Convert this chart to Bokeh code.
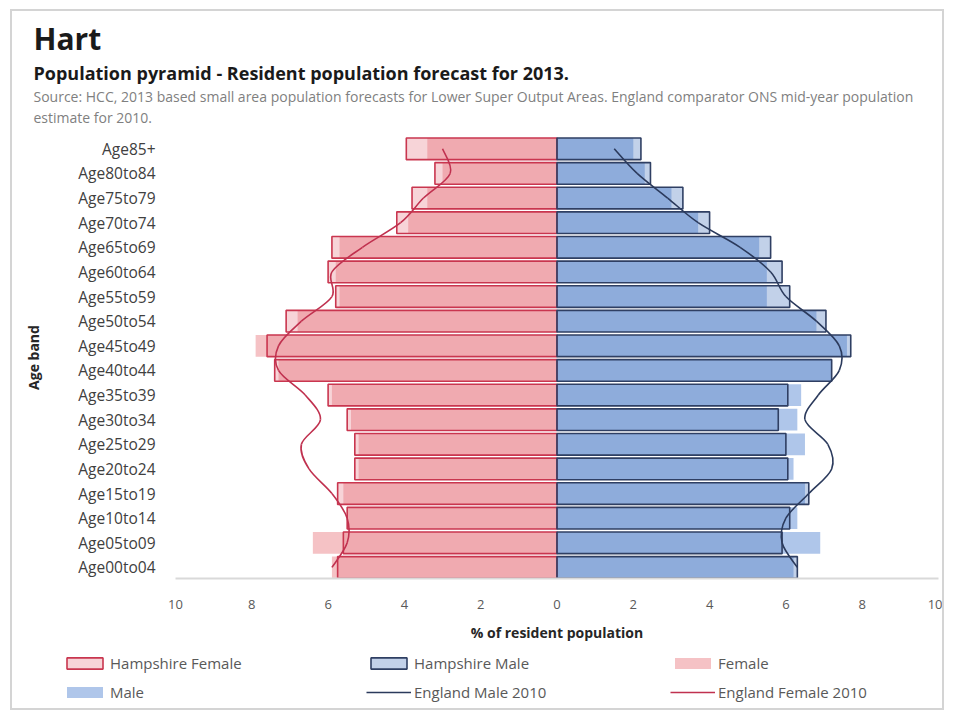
from bokeh.plotting import figure
from bokeh.models import (Range1d, FixedTicker, Title, Legend, LegendItem)
from bokeh.embed import file_html
from bokeh.resources import INLINE

# ---------------- data (top band first) ----------------
ages = ["Age85+", "Age80to84", "Age75to79", "Age70to74", "Age65to69", "Age60to64",
        "Age55to59", "Age50to54", "Age45to49", "Age40to44", "Age35to39", "Age30to34",
        "Age25to29", "Age20to24", "Age15to19", "Age10to14", "Age05to09", "Age00to04"]

hart_female = [3.4, 3.0, 3.4, 3.9, 5.7, 5.8, 5.7, 6.8, 7.9, 7.3, 5.9, 5.4, 5.2, 5.2, 5.6, 5.5, 6.4, 5.9]
hampshire_female = [3.95, 3.2, 3.8, 4.2, 5.9, 6.0, 5.8, 7.1, 7.6, 7.4, 6.0, 5.5, 5.3, 5.3, 5.75, 5.5, 5.6, 5.75]
hart_male = [2.0, 2.3, 3.0, 3.7, 5.3, 5.5, 5.5, 6.8, 7.6, 7.2, 6.4, 6.3, 6.5, 6.2, 6.5, 6.3, 6.9, 6.2]
hampshire_male = [2.2, 2.45, 3.3, 4.0, 5.6, 5.9, 6.1, 7.05, 7.7, 7.2, 6.05, 5.8, 6.0, 6.05, 6.6, 6.1, 5.9, 6.3]
england_male_2010 = [1.5, 2.1, 2.9, 3.7, 4.8, 5.6, 6.0, 6.8, 7.4, 7.4, 6.85, 6.5, 7.1, 7.2, 6.6, 6.0, 5.9, 6.3]
england_female_2010 = [3.0, 2.8, 3.5, 4.1, 5.1, 5.9, 5.9, 6.7, 7.3, 7.3, 6.6, 6.2, 6.7, 6.5, 5.9, 5.5, 5.5, 5.9]

x_ticks = [-10, -8, -6, -4, -2, 0, 2, 4, 6, 8, 10]
x_tick_labels = ["10", "8", "6", "4", "2", "0", "2", "4", "6", "8", "10"]

title_text = "Hart"
subtitle_text = "Population pyramid - Resident population forecast for 2013."
source_lines = ["Source: HCC, 2013 based small area population forecasts for Lower Super Output Areas. England comparator ONS mid-year population",
                "estimate for 2010."]

# ---------------- derived positions ----------------
n = len(ages)
ypos = [n - 1 - k for k in range(n)]
neg = lambda vals: [-v for v in vals]

FONT = "Open Sans"

# frame covers the canvas below the titles; the axes sit inside it at fixed locations
p = figure(width=934, height=701, output_backend="svg", toolbar_location=None,
           x_range=Range1d(-14.273, 10.21), y_range=Range1d(-5.892, 17.906),
           min_border_left=0, min_border_right=0, min_border_top=115, min_border_bottom=0)
p.styles = {"margin-left": "10px", "margin-top": "9px", "border": "2px solid #d4d4d4"}
p.outline_line_color = None
p.xgrid.visible = False
p.ygrid.visible = False
p.background_fill_color = "white"
p.border_fill_color = "white"

BAR_H = 0.88
# Hart (filled)
r_female = p.hbar(y=ypos, left=neg(hart_female), right=0, height=BAR_H,
                  fill_color="#F5C2C5", line_color=None)
r_male = p.hbar(y=ypos, left=0, right=hart_male, height=BAR_H,
                fill_color="#AFC6EA", line_color=None)
# Hampshire (outlined)
r_hf = p.hbar(y=ypos, left=neg(hampshire_female), right=0, height=BAR_H,
              fill_color="#E57A87", fill_alpha=0.32, line_color="#C9364F", line_width=1.6)
r_hm = p.hbar(y=ypos, left=0, right=hampshire_male, height=BAR_H,
              fill_color="#4F7CC0", fill_alpha=0.35, line_color="#2F3F63", line_width=1.6)


def smooth(xs, ys):
    m = len(xs)
    out = dict(x0=[], y0=[], x1=[], y1=[], cx0=[], cy0=[], cx1=[], cy1=[])
    for i in range(m - 1):
        a = max(i - 1, 0)
        d = min(i + 2, m - 1)
        out["x0"].append(xs[i]); out["y0"].append(ys[i])
        out["x1"].append(xs[i + 1]); out["y1"].append(ys[i + 1])
        out["cx0"].append(xs[i] + (xs[i + 1] - xs[a]) / 6.0)
        out["cy0"].append(ys[i] + (ys[i + 1] - ys[a]) / 6.0)
        out["cx1"].append(xs[i + 1] - (xs[d] - xs[i]) / 6.0)
        out["cy1"].append(ys[i + 1] - (ys[d] - ys[i]) / 6.0)
    return out


r_em = p.bezier(**smooth(england_male_2010, ypos), line_color="#2B3A5C", line_width=1.6)
r_ef = p.bezier(**smooth(neg(england_female_2010), ypos), line_color="#C0314F", line_width=1.6)

# ---------------- axes ----------------
xa = p.xaxis[0]
xa.fixed_location = -0.45
xa.bounds = (x_ticks[0], x_ticks[-1])
xa.ticker = FixedTicker(ticks=x_ticks)
xa.major_label_overrides = {t: l for t, l in zip(x_ticks, x_tick_labels)}
xa.major_tick_line_color = None
xa.minor_tick_line_color = None
xa.axis_line_color = "#d9d9d9"
xa.axis_line_width = 2
xa.major_label_standoff = 16
xa.major_label_text_font = FONT
xa.major_label_text_font_size = "13px"
xa.major_label_text_color = "#595959"
xa.axis_label = "% of resident population"
xa.axis_label_text_font = FONT
xa.axis_label_text_font_size = "14px"
xa.axis_label_text_font_style = "bold"
xa.axis_label_text_color = "#262626"
xa.axis_label_standoff = 10

ya = p.yaxis[0]
ya.fixed_location = x_ticks[0]
ya.bounds = (ypos[-1] - 0.45, ypos[0] + 0.5)
ya.ticker = FixedTicker(ticks=ypos)
ya.major_label_overrides = {y: a for y, a in zip(ypos, ages)}
ya.major_tick_line_color = None
ya.minor_tick_line_color = None
ya.axis_line_color = None
ya.major_label_standoff = 14
ya.major_label_text_font = FONT
ya.major_label_text_font_size = "15.5px"
ya.major_label_text_color = "#404040"
ya.axis_label = "Age band"
ya.axis_label_text_font = FONT
ya.axis_label_text_font_size = "14px"
ya.axis_label_text_font_style = "bold"
ya.axis_label_text_color = "#262626"
ya.axis_label_standoff = 32

# ---------------- titles (added bottom-up: later ones sit higher) ----------------
for line in reversed(source_lines):
    p.add_layout(Title(text=line, align="left", offset=21, standoff=0,
                       text_font=FONT, text_font_size="14px", text_font_style="normal",
                       text_color="#7f7f7f"), "above")
p.add_layout(Title(text=subtitle_text, align="left", offset=21, standoff=0,
                   text_font=FONT, text_font_size="18px", text_font_style="bold",
                   text_color="#1a1a1a"), "above")
p.add_layout(Title(text=title_text, align="left", offset=21, standoff=0,
                   text_font=FONT, text_font_size="30px", text_font_style="bold",
                   text_color="#1a1a1a"), "above")

# ---------------- legend ----------------
items = [LegendItem(label="Hampshire Female", renderers=[r_hf]),
         LegendItem(label="Male", renderers=[r_male]),
         LegendItem(label="Hampshire Male", renderers=[r_hm]),
         LegendItem(label="England Male 2010", renderers=[r_em]),
         LegendItem(label="Female", renderers=[r_female]),
         LegendItem(label="England Female 2010", renderers=[r_ef])]
legend = Legend(items=items, location=(50, 10), orientation="vertical", nrows=2,
                glyph_width=45, glyph_height=14, label_width=247, label_standoff=3,
                label_text_font=FONT, label_text_font_size="15px", label_text_color="#595959",
                spacing=9, padding=0, margin=0, border_line_color=None,
                background_fill_alpha=0)
p.add_layout(legend, "center")

open("out.html", "w").write(file_html(p, INLINE))
